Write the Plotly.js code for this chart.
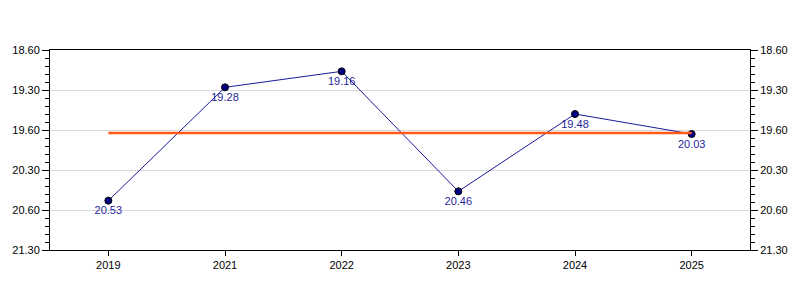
<!DOCTYPE html>
<html>
<head>
<meta charset="utf-8">
<script src="https://cdn.plot.ly/plotly-3.0.1.min.js"></script>
<style>html,body{margin:0;padding:0;background:#fff;}#chart{width:800px;height:300px;}</style>
</head>
<body>
<div id="chart"></div>
<script>
// Data (times written as minutes.seconds)
const years = ["2019", "2021", "2022", "2023", "2024", "2025"];
const times = ["20.53", "19.28", "19.16", "20.46", "19.48", "20.03"];
const tickLabels = ["18.60", "19.30", "19.60", "20.30", "20.60", "21.30"];
const tickSeconds = [1140, 1170, 1200, 1230, 1260, 1290];

function toSeconds(t) {
  const parts = t.split(".");
  return parseInt(parts[0], 10) * 60 + parseInt(parts[1], 10);
}
const secs = times.map(toSeconds);
const mean = secs.reduce((a, b) => a + b, 0) / secs.length;

const font = {family: "Liberation Sans, Arial, sans-serif", size: 11, color: "#000"};
const yRange = [tickSeconds[tickSeconds.length - 1], tickSeconds[0]];

const traces = [
  {
    x: [years[0], years[years.length - 1]],
    y: [mean, mean],
    yaxis: "y2",
    mode: "lines",
    line: {color: "#ff5a1a", width: 2.5},
    hoverinfo: "skip",
    showlegend: false
  },
  {
    x: years,
    y: secs,
    mode: "lines+markers+text",
    text: times,
    textposition: "bottom center",
    textfont: {family: "Liberation Sans, Arial, sans-serif", size: 11, color: "#1f1f9e"},
    line: {color: "#00008f", width: 0.9},
    marker: {color: "#000080", size: 7, line: {color: "#000", width: 1}},
    showlegend: false
  }
];

const yCommon = {
  range: yRange,
  autorange: false,
  tickmode: "array",
  tickvals: tickSeconds,
  ticktext: tickLabels,
  ticks: "outside",
  ticklen: 7,
  tickcolor: "#000",
  tickfont: font,
  showline: true,
  linecolor: "#000",
  linewidth: 1,
  zeroline: false,
  minor: {tickmode: "linear", tick0: 1140, dtick: 6, ticks: "outside", ticklen: 4, tickcolor: "#000", showgrid: false}
};

const layout = {
  width: 800,
  height: 300,
  margin: {l: 50, r: 50, t: 50, b: 50},
  paper_bgcolor: "#fff",
  plot_bgcolor: "#fff",
  font: font,
  showlegend: false,
  xaxis: {
    type: "category",
    categoryarray: years,
    range: [-0.5, years.length - 0.5],
    ticks: "outside",
    ticklen: 5,
    tickcolor: "#000",
    tickfont: font,
    showline: true,
    mirror: true,
    linecolor: "#000",
    linewidth: 1,
    showgrid: false,
    zeroline: false
  },
  yaxis: Object.assign({}, yCommon, {
    side: "left",
    showgrid: true,
    gridcolor: "#d9d9d9",
    gridwidth: 1
  }),
  yaxis2: Object.assign({}, yCommon, {
    overlaying: "y",
    side: "right",
    showgrid: false
  })
};

Plotly.newPlot("chart", traces, layout, {displayModeBar: false, staticPlot: true});
</script>
</body>
</html>
